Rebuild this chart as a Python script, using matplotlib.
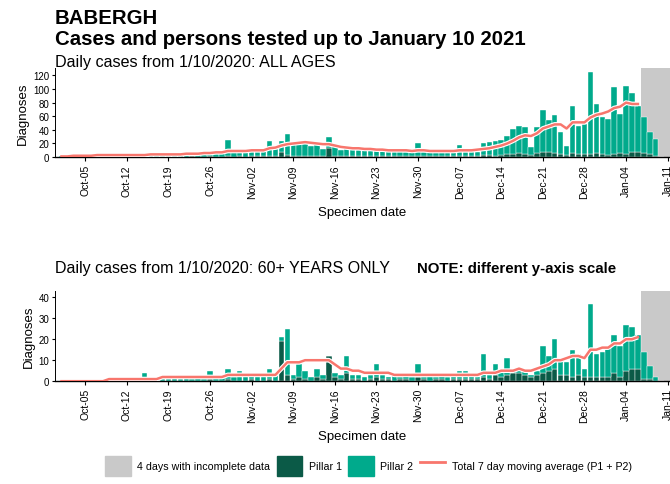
import numpy as np
import pandas as pd
import matplotlib
matplotlib.use('Agg')
import matplotlib.pyplot as plt
from matplotlib.patches import Patch
from matplotlib.lines import Line2D

plt.rcParams['font.family'] = ['Liberation Sans', 'DejaVu Sans']

# Oct 1 2020 -> Jan 10 2021, one value per day
dates = pd.date_range('2020-10-01', '2021-01-10')

# all ages
p1_all = [0, 0, 0, 0, 0, 0, 0, 0, 0, 0, 0, 0, 0, 1, 0, 0, 0, 0, 1, 0,
          0, 0, 1, 0, 0, 1, 0, 0, 1, 0, 1, 0, 1, 1, 1, 1, 2, 7, 3, 2,
          1, 2, 1, 2, 1, 13, 2, 1, 1, 1, 1, 1, 2, 1, 1, 1, 1, 1, 1, 1,
          1, 1, 1, 1, 1, 1, 1, 2, 1, 1, 2, 3, 3, 2, 3, 4, 5, 6, 5, 3,
          6, 7, 8, 6, 5, 3, 6, 5, 5, 4, 6, 5, 3, 5, 6, 4, 8, 7, 6, 4,
          2, 0]
p2_all = [2, 1, 3, 2, 1, 3, 2, 3, 2, 4, 3, 2, 4, 3, 3, 4, 5, 3, 4, 5,
          4, 6, 5, 7, 6, 8, 8, 7, 24, 7, 8, 8, 8, 9, 9, 23, 10, 17, 31, 17,
          19, 19, 16, 18, 11, 16, 15, 9, 11, 12, 9, 10, 8, 9, 8, 9, 8, 9, 7, 8,
          19, 7, 7, 6, 7, 6, 8, 16, 6, 6, 6, 17, 19, 22, 22, 27, 36, 40, 39, 12,
          38, 62, 46, 56, 32, 13, 69, 41, 43, 121, 72, 54, 53, 98, 57, 100, 86, 68, 53, 33,
          24, 0]
ma_all = [1, 1, 2, 2, 2, 2, 3, 3, 3, 3, 3, 3, 3, 3, 3, 4, 4, 4, 4, 4,
          4, 5, 5, 5, 6, 6, 7, 7, 9, 9, 9, 9, 10, 10, 10, 13, 14, 17, 19, 20,
          21, 22, 21, 20, 19, 19, 17, 15, 14, 13, 13, 12, 12, 11, 11, 10, 10, 10, 10, 9,
          10, 10, 9, 9, 9, 9, 9, 10, 10, 10, 11, 12, 13, 15, 17, 20, 24, 29, 32, 31,
          35, 42, 45, 48, 48, 42, 51, 51, 51, 58, 62, 64, 67, 72, 74, 80, 78, 78]

# 60+ only
p1_60 = [0, 0, 0, 0, 0, 0, 0, 0, 0, 0, 0, 0, 0, 0, 1, 0, 0, 0, 0, 0,
         0, 0, 0, 0, 0, 1, 0, 0, 1, 0, 0, 0, 1, 0, 0, 1, 0, 19, 3, 1,
         2, 1, 0, 2, 1, 12, 2, 1, 4, 1, 1, 0, 1, 2, 1, 1, 0, 1, 1, 0,
         2, 1, 0, 1, 1, 0, 1, 1, 1, 1, 1, 2, 1, 3, 2, 3, 4, 4, 3, 2,
         3, 4, 5, 6, 3, 3, 2, 3, 2, 2, 2, 2, 2, 4, 2, 5, 6, 6, 1, 1,
         0, 0]
p2_60 = [0, 0, 1, 0, 0, 1, 0, 1, 0, 1, 0, 2, 1, 0, 3, 1, 2, 1, 1, 2,
         1, 2, 1, 2, 1, 4, 2, 2, 5, 2, 5, 3, 2, 3, 3, 5, 3, 2, 22, 2,
         6, 4, 2, 4, 2, 0, 2, 2, 8, 2, 2, 2, 2, 6, 2, 1, 3, 1, 2, 2,
         6, 1, 3, 1, 2, 2, 2, 4, 4, 2, 1, 11, 2, 5, 3, 8, 2, 2, 2, 1,
         2, 13, 7, 14, 8, 6, 13, 10, 4, 35, 11, 12, 14, 18, 15, 22, 20, 16, 13, 6,
         2, 0]
ma_60 = [0, 0, 0, 0, 0, 0, 0, 0, 1, 1, 1, 1, 1, 1, 1, 1, 1, 2, 2, 2,
         2, 2, 2, 2, 2, 2, 2, 2, 3, 3, 3, 3, 3, 3, 3, 3, 3, 6, 9, 9,
         9, 10, 10, 10, 10, 10, 8, 6, 6, 5, 5, 4, 4, 4, 4, 4, 3, 3, 3, 3,
         3, 3, 3, 3, 3, 3, 3, 3, 3, 3, 3, 4, 4, 4, 5, 5, 5, 6, 5, 5,
         6, 7, 8, 10, 10, 11, 12, 12, 11, 15, 15, 16, 16, 18, 18, 20, 20, 21]

tick_days = np.arange(4, 103, 7)
tick_labels = [d.strftime('%b-%d') for d in pd.date_range('2020-10-05', periods=len(tick_days), freq='7D')]
n_incomplete = 4

c_p1 = '#0b5a47'
c_p2 = '#00aa8c'
c_ma = '#f8766d'
c_grey = '#c9c9c9'

fig = plt.figure(figsize=(6.7, 4.85), dpi=100)
ax1 = fig.add_axes([0.082, 0.674, 0.918, 0.184])
ax2 = fig.add_axes([0.082, 0.212, 0.918, 0.186])

x = np.arange(len(dates))


def draw(ax, p1, p2, ma, ymax, yticks):
    p1 = np.array(p1)
    p2 = np.array(p2)
    ax.axvspan(len(dates) - n_incomplete - 0.5, 103, color=c_grey, lw=0, zorder=0)
    ax.bar(x, p1, width=0.92, color=c_p1, edgecolor='white', linewidth=0.3, zorder=2)
    ax.bar(x, p2, bottom=p1, width=0.92, color=c_p2, edgecolor='white', linewidth=0.3, zorder=2)
    ax.plot(x[:len(ma)], ma, color='white', lw=3.4, zorder=3, solid_capstyle='butt')
    ax.plot(x[:len(ma)], ma, color=c_ma, lw=1.8, zorder=4)
    ax.set_xlim(-1.1, 102.4)
    ax.set_ylim(0, ymax)
    ax.set_yticks(yticks)
    ax.set_xticks(tick_days)
    ax.set_xticklabels(tick_labels, rotation=90, fontsize=7.5)
    ax.tick_params(axis='y', labelsize=7, length=2.5, pad=1.5)
    ax.tick_params(axis='x', length=3, pad=2)
    for s in ['top', 'right']:
        ax.spines[s].set_visible(False)
    ax.spines['left'].set_linewidth(0.7)
    ax.spines['bottom'].set_linewidth(1.0)
    ax.set_ylabel('Diagnoses', fontsize=9.5, labelpad=3)
    ax.set_xlabel('Specimen date', fontsize=9.5, labelpad=6)


draw(ax1, p1_all, p2_all, ma_all, 131, np.arange(0, 121, 20))
draw(ax2, p1_60, p2_60, ma_60, 43, np.arange(0, 41, 10))

fig.text(0.082, 0.962, 'BABERGH', fontsize=14.7, fontweight='bold', va='center')
fig.text(0.082, 0.919, 'Cases and persons tested up to January 10 2021', fontsize=14.7,
         fontweight='bold', va='center')
fig.text(0.082, 0.871, 'Daily cases from 1/10/2020: ALL AGES', fontsize=11.6, va='center')
fig.text(0.082, 0.446, 'Daily cases from 1/10/2020: 60+ YEARS ONLY', fontsize=11.5, va='center')
fig.text(0.622, 0.446, 'NOTE: different y-axis scale', fontsize=10.8, fontweight='bold', va='center')

handles = [Patch(color=c_grey), Patch(color=c_p1), Patch(color=c_p2),
           Line2D([], [], color=c_ma, lw=2)]
labels = ['4 days with incomplete data', 'Pillar 1', 'Pillar 2',
          'Total 7 day moving average (P1 + P2)']
fig.legend(handles, labels, loc='center', bbox_to_anchor=(0.55, 0.037), ncol=4,
           frameon=False, fontsize=7.7, handlelength=2.4, handleheight=2.6,
           columnspacing=0.6, handletextpad=0.6)

fig.savefig('out.png', dpi=100)
